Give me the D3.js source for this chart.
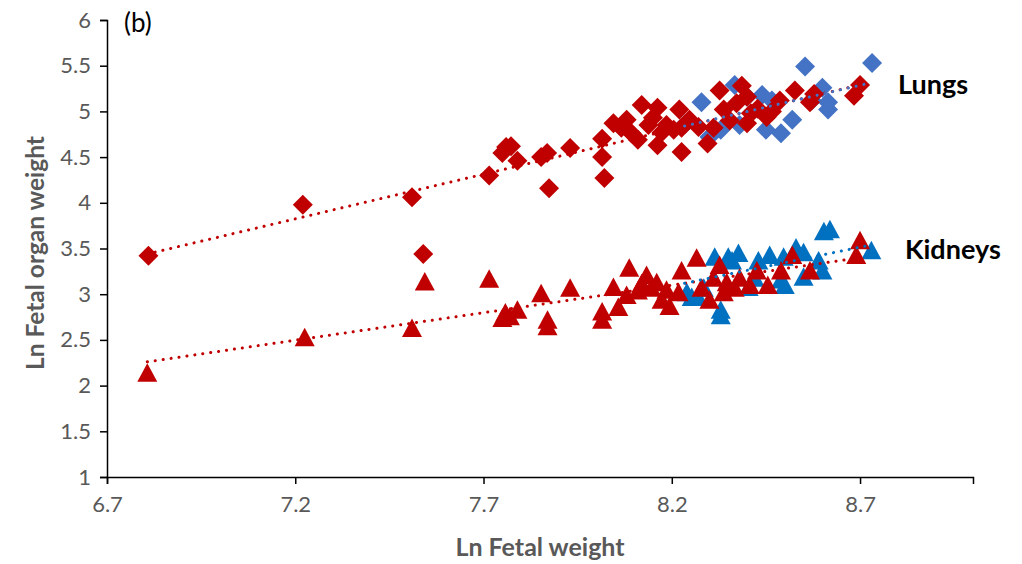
<!DOCTYPE html>
<html>
<head>
<meta charset="utf-8">
<script src="https://cdn.jsdelivr.net/npm/d3@7"></script>
<style>
  body { margin: 0; background: #fff; }
  text { font-family: Lato, "Open Sans", sans-serif; }
</style>
</head>
<body>
<div id="chart"></div>
<script>
// red = one group, blue = the other; diamonds = lungs, triangles = kidneys
var lungsRedX = [6.81, 7.22, 7.51, 7.54, 7.715, 7.75, 7.76, 7.773, 7.79, 7.853, 7.869, 7.874, 7.93, 8.015, 8.021, 8.015,
  8.045, 8.066, 8.08, 8.093, 8.11, 8.12, 8.138, 8.15, 8.162, 8.162, 8.173, 8.186, 8.205, 8.226, 8.226, 8.22, 8.247,
  8.271, 8.295, 8.311, 8.327, 8.338, 8.354, 8.372, 8.386, 8.40, 8.41, 8.40, 8.428, 8.452, 8.466, 8.487, 8.527, 8.567,
  8.578, 8.684, 8.70];
var lungsRedY = [3.42, 3.98, 4.06, 3.44, 4.30, 4.545, 4.61, 4.62, 4.46, 4.50, 4.545, 4.16, 4.60, 4.50, 4.27, 4.70,
  4.87, 4.82, 4.91, 4.76, 4.69, 5.07, 4.85, 4.93, 5.04, 4.63, 4.77, 4.85, 4.80, 4.82, 4.555, 5.02, 4.91,
  4.83, 4.65, 4.82, 5.23, 5.02, 4.90, 5.09, 5.28, 5.16, 4.98, 4.87, 5.03, 4.94, 5.00, 5.12, 5.23, 5.10,
  5.19, 5.17, 5.29];

var lungsBlueX = [8.235, 8.279, 8.30, 8.33, 8.367, 8.38, 8.40, 8.44, 8.45, 8.466, 8.49, 8.52, 8.554, 8.572, 8.60, 8.615, 8.615, 8.732];
var lungsBlueY = [4.86, 5.10, 4.72, 4.80, 5.29, 4.85, 5.16, 5.18, 4.80, 5.12, 4.76, 4.91, 5.49, 5.12, 5.26, 5.02, 5.10, 5.53];

var kidneyRedX = [6.807, 7.225, 7.51, 7.544, 7.715, 7.75, 7.758, 7.77, 7.79, 7.853, 7.87, 7.87, 7.93, 8.015, 8.015,
  8.045, 8.058, 8.08, 8.087, 8.11, 8.12, 8.133, 8.146, 8.16, 8.173, 8.186, 8.194, 8.218, 8.226, 8.266, 8.279,
  8.30, 8.311, 8.327, 8.338, 8.346, 8.367, 8.38, 8.407, 8.426, 8.455, 8.49, 8.52, 8.567, 8.69, 8.70];
var kidneyRedY = [2.14, 2.53, 2.63, 3.14, 3.17, 2.74, 2.80, 2.76, 2.83, 3.01, 2.72, 2.65, 3.07, 2.72, 2.81,
  3.08, 2.86, 2.99, 3.29, 3.04, 3.12, 3.21, 3.07, 3.13, 2.94, 3.05, 2.87, 3.02, 3.26, 3.40, 3.07,
  2.94, 3.18, 3.32, 3.02, 3.13, 3.07, 3.18, 3.10, 3.26, 3.10, 3.26, 3.43, 3.26, 3.43, 3.59];

var kidneyBlueX = [8.24, 8.253, 8.27, 8.285, 8.314, 8.33, 8.33, 8.35, 8.36, 8.377, 8.404, 8.42, 8.43, 8.46, 8.497,
  8.49, 8.50, 8.53, 8.55, 8.55, 8.59, 8.60, 8.604, 8.62, 8.73];
var kidneyBlueY = [3.02, 2.97, 2.97, 3.07, 3.41, 2.77, 2.83, 3.41, 3.37, 3.45, 3.08, 3.18, 3.37, 3.43, 3.41,
  3.16, 3.10, 3.51, 3.46, 3.19, 3.37, 3.26, 3.69, 3.71, 3.48];

// trend line end points
var trendLungsRed = [[6.807, 3.44], [8.70, 5.29]];
var trendLungsBlue = [[8.234, 4.84], [8.715, 5.30]];
var trendKidneyRed = [[6.807, 2.26], [8.70, 3.40]];
var trendKidneyBlue = [[8.234, 3.12], [8.73, 3.54]];

var xTicks = [6.7, 7.2, 7.7, 8.2, 8.7];
var yTicks = [1, 1.5, 2, 2.5, 3, 3.5, 4, 4.5, 5, 5.5, 6];

var red = "#C00000", blueL = "#4472C4", blueK = "#0070C0";

var margin = {top: 20, right: 49, bottom: 87, left: 107},
    W = 1022, H = 564,
    width = W - margin.left - margin.right,
    height = H - margin.top - margin.bottom;

var svg = d3.select("#chart").append("svg")
    .attr("width", W)
    .attr("height", H);

var g = svg.append("g")
    .attr("transform", "translate(" + margin.left + "," + margin.top + ")");

var x = d3.scaleLinear().domain([6.7, 9.0]).range([0, width]);
var y = d3.scaleLinear().domain([1, 6]).range([height, 0]);

// axes
var xAxis = g.append("g")
    .attr("transform", "translate(0," + height + ")")
    .call(d3.axisBottom(x).tickValues(xTicks).tickSize(7).tickPadding(12).tickFormat(d3.format(".1f")));
var yAxis = g.append("g")
    .call(d3.axisLeft(y).tickValues(yTicks).tickSize(7).tickPadding(9).tickFormat(function(d) { return d; }));

[xAxis, yAxis].forEach(function(a) {
  a.attr("font-size", 22).attr("font-family", "Lato, sans-serif");
  a.select(".domain").attr("stroke", "#000").attr("stroke-width", 1.5);
  a.selectAll(".tick line").attr("stroke", "#000").attr("stroke-width", 1.5);
  a.selectAll(".tick text")
    .attr("fill", "#595959")
    .style("font-size", "22px");
});

function diamond(cx, cy) {
  var r = 10;
  return "M" + cx + "," + (cy - r) + "L" + (cx + r) + "," + cy + "L" + cx + "," + (cy + r) + "L" + (cx - r) + "," + cy + "Z";
}
function triangle(cx, cy) {
  return "M" + cx + "," + (cy - 9.5) + "L" + (cx + 10) + "," + (cy + 9) + "L" + (cx - 10) + "," + (cy + 9) + "Z";
}

function drawSeries(xs, ys, shape, color) {
  g.append("g").selectAll("path")
    .data(xs.map(function(v, i) { return [v, ys[i]]; }))
    .enter().append("path")
      .attr("d", function(d) { return shape(x(d[0]), y(d[1])); })
      .attr("fill", color);
}

drawSeries(lungsBlueX, lungsBlueY, diamond, blueL);
drawSeries(lungsRedX, lungsRedY, diamond, red);
drawSeries(kidneyBlueX, kidneyBlueY, triangle, blueK);
drawSeries(kidneyRedX, kidneyRedY, triangle, red);

var line = d3.line()
    .x(function(d) { return x(d[0]); })
    .y(function(d) { return y(d[1]); });

function drawTrend(pts, color) {
  g.append("path")
    .datum(pts)
    .attr("d", line)
    .attr("fill", "none")
    .attr("stroke", color)
    .attr("stroke-width", 3)
    .attr("stroke-linecap", "round")
    .attr("stroke-dasharray", "0.1 7.9");
}
drawTrend(trendLungsRed, red);
drawTrend(trendKidneyRed, red);
drawTrend(trendLungsBlue, blueL);
drawTrend(trendKidneyBlue, blueK);

// titles and labels
svg.append("text")
    .attr("x", 540).attr("y", 556)
    .attr("text-anchor", "middle")
    .attr("fill", "#595959")
    .style("font-size", "25px").style("font-weight", "bold")
    .text("Ln Fetal weight");

svg.append("text")
    .attr("transform", "translate(44,253) rotate(-90)")
    .attr("text-anchor", "middle")
    .attr("fill", "#595959")
    .style("font-size", "24.5px").style("font-weight", "bold")
    .text("Ln Fetal organ weight");

svg.append("text")
    .attr("x", 124).attr("y", 32)
    .attr("fill", "#000")
    .style("font-size", "26px")
    .text("(b)");

svg.append("text")
    .attr("x", 898).attr("y", 94)
    .attr("fill", "#000")
    .style("font-size", "27px").style("font-weight", "bold")
    .text("Lungs");

svg.append("text")
    .attr("x", 905).attr("y", 259)
    .attr("fill", "#000")
    .style("font-size", "27px").style("font-weight", "bold")
    .text("Kidneys");
</script>
</body>
</html>
